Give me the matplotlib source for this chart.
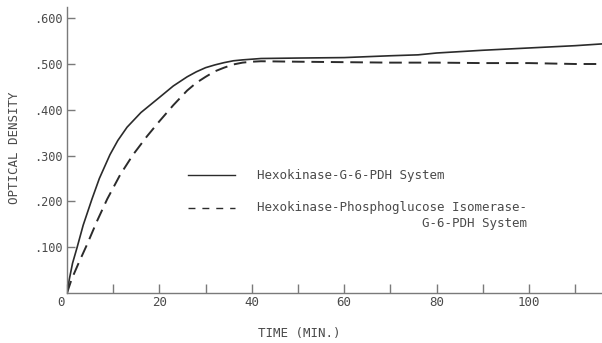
#import libraries
import matplotlib.pyplot as plt
import matplotlib.transforms as mtransforms

# Optical density readings
time_hk = [0, 0.5, 1.2, 2.2, 3.5, 5.4, 7, 9.3, 11, 13, 16, 20, 23, 26, 28, 30, 32, 34, 36, 38, 42, 50, 60, 70,
           76, 80, 90, 100, 110, 116]
od_hk = [0, 0.03, 0.065, 0.1, 0.148, 0.205, 0.25, 0.302, 0.333, 0.362, 0.394, 0.427, 0.452, 0.472, 0.483, 0.492,
         0.498, 0.503, 0.507, 0.509, 0.512, 0.513, 0.514, 0.518, 0.52, 0.524, 0.53, 0.535, 0.54, 0.544]

time_pgi = [0, 1, 2.5, 4.3, 6.5, 8.7, 11.5, 14.3, 17.3, 20, 23, 26, 28, 30, 32, 34, 36, 38, 40, 42, 50, 60, 70,
            80, 90, 100, 110, 116]
od_pgi = [0, 0.03, 0.065, 0.105, 0.157, 0.205, 0.258, 0.302, 0.342, 0.375, 0.41, 0.442, 0.459, 0.472, 0.484,
          0.492, 0.499, 0.503, 0.505, 0.506, 0.505, 0.504, 0.503, 0.503, 0.502, 0.502, 0.5, 0.5]

x_ticks = [0, 10, 20, 30, 40, 50, 60, 70, 80, 90, 100, 110]
x_labels = ['0', '', '20', '', '40', '', '60', '', '80', '', '100', '']
y_ticks = [0.1, 0.2, 0.3, 0.4, 0.5, 0.6]
y_labels = ['.100', '.200', '.300', '.400', '.500', '.600']

label_hk = 'Hexokinase-G-6-PDH System'
label_pgi = 'Hexokinase-Phosphoglucose Isomerase-\nG-6-PDH System'

ink = '#2b2b2b'
axis_col = '#7a7a7a'
text_col = '#4a4a4a'
plt.rcParams['font.family'] = ['DejaVu Sans Mono']

W, H = 602, 343
fig = plt.figure(figsize=(W / 100, H / 100), dpi=100)
ax = fig.add_axes([67 / W, 50 / H, (W - 67) / W, (293 - 7) / H])

# Draw the two curves
ax.plot(time_hk, od_hk, color=ink, linewidth=1.2, solid_joinstyle='round')
ax.plot(time_pgi, od_pgi, color=ink, linewidth=1.4, dashes=(6.5, 3.5))

ax.set_xlim(0, (W - 67) / 4.62)
ax.set_ylim(0, 286 / 458)

for side in ['top', 'right']:
    ax.spines[side].set_visible(False)
for side in ['left', 'bottom']:
    ax.spines[side].set_color(axis_col)
    ax.spines[side].set_linewidth(1.0)

ax.set_xticks(x_ticks)
ax.set_xticklabels(x_labels)
ax.set_yticks(y_ticks)
ax.set_yticklabels(y_labels)
ax.tick_params(axis='x', direction='in', length=6.5, width=1.0, color=axis_col, labelsize=9, labelcolor=text_col, pad=2)
ax.tick_params(axis='y', direction='in', length=6, width=1.0, color=axis_col, labelsize=8.6, labelcolor=text_col, pad=3)

# The "0" label sits a bit left of the origin in the original
zero_lbl = ax.get_xticklabels()[0]
zero_lbl.set_transform(zero_lbl.get_transform() + mtransforms.ScaledTranslation(-6 / 100, 0, fig.dpi_scale_trans))

# Axis titles
fig.text(15 / W, 1 - 148 / H, 'OPTICAL DENSITY', rotation=90, ha='center', va='center', fontsize=9, color=text_col)
fig.text(299 / W, 1 - 333 / H, 'TIME (MIN.)', ha='center', va='center', fontsize=9, color=text_col)

# Hand-made legend inside the plot
fig.add_artist(plt.Line2D([188 / W, 235 / W], [1 - 175 / H, 1 - 175 / H], color=ink, linewidth=1.0))
fig.add_artist(plt.Line2D([188 / W, 235 / W], [1 - 208 / H, 1 - 208 / H], color=ink, linewidth=1.0, dashes=(5, 5)))
fig.text(257 / W, 1 - 176 / H, label_hk, ha='left', va='center', fontsize=9, color=text_col)
fig.text(257 / W, 1 - 201 / H, label_pgi, ha='left', va='top', fontsize=9, color=text_col,
         multialignment='right', linespacing=1.25)

plt.savefig('out.png', dpi=100)
